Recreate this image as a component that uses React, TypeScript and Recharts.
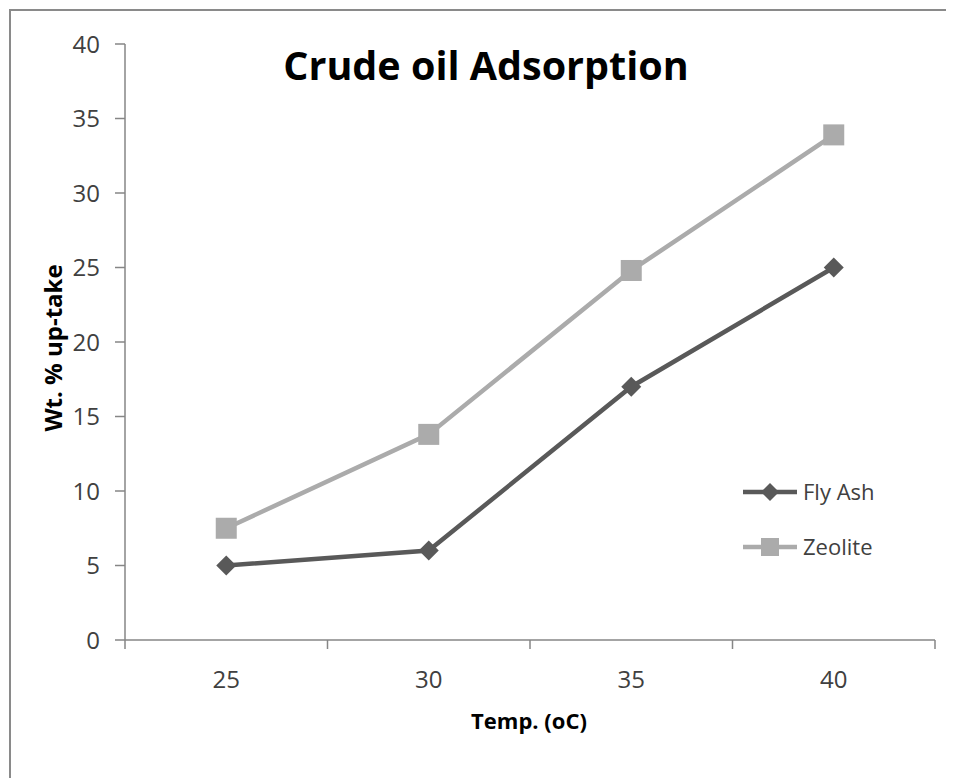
import React from 'react';
import { LineChart, Line, XAxis, YAxis } from 'recharts';

const temps = [25, 30, 35, 40];
const flyAshValues = [5, 6, 17, 25];
const zeoliteValues = [7.5, 13.8, 24.8, 33.9];
const yTicks = [0, 5, 10, 15, 20, 25, 30, 35, 40];
const xLabelTicks = [25, 30, 35, 40];
const xBoundaryTicks = [22.5, 27.5, 32.5, 37.5, 42.5];
const seriesNames = ['Fly Ash', 'Zeolite'];

const data = temps.map((t, i) => ({ temp: t, flyAsh: flyAshValues[i], zeolite: zeoliteValues[i] }));

const FONT = "'Open Sans', Lato, sans-serif";
const FLY = '#595959';
const ZEO = '#ababab';
const AXIS = '#868686';
const TEXT = '#404040';

const allXTicks = [...xBoundaryTicks, ...xLabelTicks].sort((a, b) => a - b);

const XTick = (props: any) => {
  const { x, y, payload } = props;
  const v = payload.value;
  if (xBoundaryTicks.includes(v)) {
    return <line x1={x} y1={y} x2={x} y2={y + 9} stroke={AXIS} strokeWidth={1.5} />;
  }
  return (
    <text x={x} y={y + 48} textAnchor="middle" fontFamily={FONT} fontSize={24} fill={TEXT}>
      {v}
    </text>
  );
};

const Diamond = (props: any) => {
  const { cx, cy, fill } = props;
  if (cx == null || cy == null) return null;
  const r = 10;
  return <polygon points={`${cx},${cy - r} ${cx + r},${cy} ${cx},${cy + r} ${cx - r},${cy}`} fill={fill} />;
};

const Square = (props: any) => {
  const { cx, cy, fill } = props;
  if (cx == null || cy == null) return null;
  const s = 10.5;
  return <rect x={cx - s} y={cy - s} width={2 * s} height={2 * s} fill={fill} />;
};

const legendItems = [
  { name: seriesNames[0], color: FLY, shape: 'diamond' },
  { name: seriesNames[1], color: ZEO, shape: 'square' },
];

export default function App() {
  return (
    <div style={{ width: 946, height: 770, position: 'relative', background: '#fff' }}>
      <LineChart
        width={946}
        height={770}
        data={data}
        margin={{ top: 36, right: 19, bottom: 78, left: 37 }}
      >
        <rect x={2} y={2} width={1000} height={1000} fill="none" stroke="#8a8a8a" strokeWidth={2} />
        <XAxis
          dataKey="temp"
          type="number"
          domain={[22.5, 42.5]}
          ticks={allXTicks}
          interval={0}
          tickLine={false}
          tickSize={0}
          tickMargin={0}
          height={60}
          stroke={AXIS}
          strokeWidth={1.5}
          tick={<XTick />}
        />
        <YAxis
          type="number"
          domain={[0, 40]}
          ticks={yTicks}
          interval={0}
          width={80}
          tickSize={10}
          tickMargin={15}
          stroke={AXIS}
          strokeWidth={1.5}
          tick={{ fontFamily: FONT, fontSize: 24, fill: TEXT }}
        />
        <Line
          dataKey="zeolite"
          name={seriesNames[1]}
          stroke={ZEO}
          strokeWidth={4.5}
          isAnimationActive={false}
          dot={<Square fill={ZEO} />}
          activeDot={false}
        />
        <Line
          dataKey="flyAsh"
          name={seriesNames[0]}
          stroke={FLY}
          strokeWidth={4.5}
          isAnimationActive={false}
          dot={<Diamond fill={FLY} />}
          activeDot={false}
        />
        {legendItems.map((it, i) => {
          const cy = 484 + i * 55;
          return (
            <g key={it.name}>
              <line x1={735} y1={cy} x2={789} y2={cy} stroke={it.color} strokeWidth={4.5} />
              {it.shape === 'diamond' ? (
                <polygon points={`762,${cy - 9} 771,${cy} 762,${cy + 9} 753,${cy}`} fill={it.color} />
              ) : (
                <rect x={753} y={cy - 9} width={18} height={18} fill={it.color} />
              )}
              <text x={795} y={cy + 8} fontFamily={FONT} fontSize={22} fill={TEXT}>
                {it.name}
              </text>
            </g>
          );
        })}
        <text x={478} y={72} textAnchor="middle" fontFamily={FONT} fontWeight="bold" fontSize={39.5} fill="#000">
          Crude oil Adsorption
        </text>
        <text
          x={0}
          y={0}
          transform="translate(54,340) rotate(-90)"
          textAnchor="middle"
          fontFamily={FONT}
          fontWeight="bold"
          fontSize={24}
          fill="#000"
        >
          Wt. % up-take
        </text>
        <text x={521} y={721} textAnchor="middle" fontFamily={FONT} fontWeight="bold" fontSize={22} fill="#000">
          Temp. (oC)
        </text>
      </LineChart>
    </div>
  );
}
